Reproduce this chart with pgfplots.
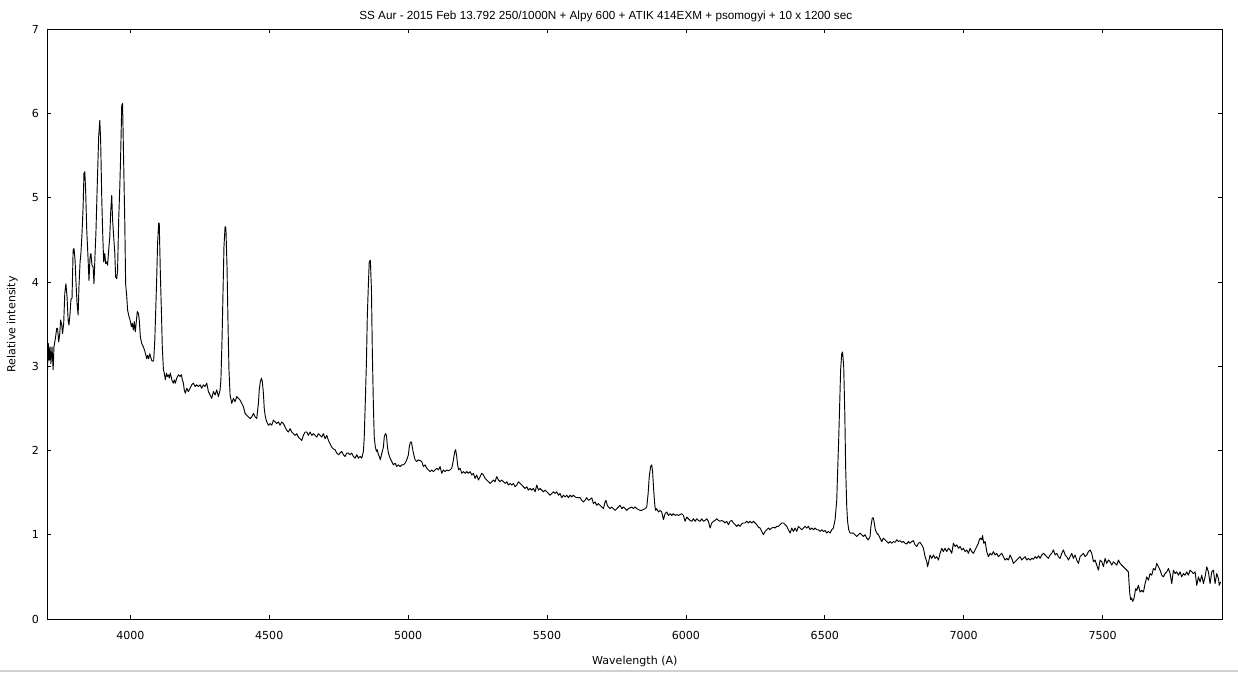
\documentclass[border=0pt]{standalone}
\usepackage{fontspec}
\usepackage{pgfplots}
\usepackage{pgfplotstable}
\pgfplotsset{compat=1.18}
\newfontfamily\dejavu{DejaVu Sans}
\newfontfamily\libsans{Liberation Sans}
\newcommand\lbl{\dejavu\fontsize{8.3}{10}\selectfont}
\newcommand\ttl{\libsans\fontsize{8.8}{10}\selectfont}
\definecolor{winborder}{RGB}{212,208,200}

\pgfplotstableread{
x y
3701 2.88
3705 3.27
3708 3.07
3711 3.23
3714 3.03
3718 3.23
3722 2.96
3725 3.23
3730 3.33
3735 3.45
3738 3.45
3742 3.29
3746 3.39
3749 3.55
3753 3.49
3756 3.39
3760 3.51
3764 3.87
3768 3.98
3772 3.83
3776 3.55
3779 3.49
3783 3.63
3786 3.79
3790 3.81
3794 4.38
3797 4.40
3801 4.26
3804 4.02
3808 3.75
3812 3.61
3815 3.95
3819 4.24
3822 4.34
3826 4.58
3830 4.90
3833 5.29
3836 5.31
3839 5.09
3843 4.62
3848 4.26
3851 4.02
3855 4.30
3858 4.34
3862 4.20
3866 4.18
3869 3.98
3873 4.34
3876 4.58
3881 5.17
3886 5.73
3890 5.92
3893 5.69
3897 5.01
3900 4.62
3904 4.24
3908 4.34
3911 4.22
3915 4.24
3918 4.20
3922 4.38
3926 4.54
3929 4.82
3933 5.03
3936 4.74
3940 4.54
3944 4.34
3947 4.06
3951 4.04
3954 4.14
3958 4.74
3962 5.13
3965 5.49
3969 6.10
3972 6.12
3976 5.41
3980 4.70
3983 3.98
3987 3.83
3990 3.67
3995 3.59
3999 3.55
4004 3.47
4007 3.51
4011 3.43
4014 3.53
4018 3.41
4022 3.55
4025 3.65
4029 3.63
4032 3.55
4036 3.35
4041 3.27
4047 3.23
4053 3.17
4059 3.09
4062 3.13
4066 3.09
4070 3.15
4073 3.11
4077 3.07
4080 3.06
4084 3.07
4088 3.31
4091 3.63
4095 4.06
4098 4.46
4102 4.70
4104 4.70
4108 4.10
4112 3.63
4115 3.23
4119 2.96
4122 2.92
4126 2.84
4130 2.92
4133 2.88
4137 2.90
4140 2.86
4144 2.92
4148 2.86
4151 2.82
4155 2.80
4158 2.84
4162 2.80
4167 2.86
4173 2.90
4179 2.88
4184 2.90
4187 2.84
4191 2.80
4194 2.72
4198 2.68
4203 2.74
4209 2.70
4215 2.74
4221 2.78
4227 2.80
4233 2.76
4239 2.78
4245 2.76
4251 2.78
4257 2.74
4263 2.78
4269 2.76
4275 2.80
4281 2.70
4287 2.66
4293 2.62
4299 2.70
4305 2.66
4311 2.72
4317 2.64
4323 2.72
4326 2.84
4330 3.31
4334 3.95
4337 4.42
4341 4.66
4344 4.64
4348 4.18
4352 3.43
4355 2.96
4359 2.66
4365 2.56
4371 2.62
4377 2.58
4383 2.64
4389 2.62
4395 2.60
4401 2.56
4407 2.52
4413 2.44
4419 2.42
4425 2.40
4431 2.38
4437 2.40
4443 2.44
4449 2.40
4455 2.38
4461 2.56
4464 2.72
4468 2.82
4472 2.86
4475 2.82
4479 2.68
4482 2.50
4486 2.40
4491 2.34
4497 2.30
4503 2.32
4509 2.30
4515 2.36
4521 2.34
4527 2.32
4533 2.34
4539 2.30
4545 2.34
4551 2.32
4557 2.28
4563 2.24
4569 2.22
4575 2.26
4581 2.22
4587 2.20
4593 2.18
4599 2.20
4605 2.16
4611 2.14
4617 2.12
4623 2.18
4629 2.22
4635 2.22
4641 2.18
4647 2.22
4653 2.18
4659 2.20
4665 2.18
4671 2.16
4677 2.20
4683 2.18
4689 2.16
4695 2.20
4701 2.14
4707 2.18
4713 2.12
4719 2.08
4725 2.04
4731 2.02
4737 2.01
4743 1.97
4749 1.95
4755 1.97
4761 1.99
4767 1.95
4773 1.93
4779 1.97
4785 1.97
4791 1.95
4797 1.97
4803 1.93
4809 1.91
4815 1.95
4821 1.91
4827 1.93
4833 1.91
4839 1.99
4842 2.16
4846 2.60
4850 3.07
4853 3.59
4857 3.98
4860 4.24
4864 4.26
4868 3.90
4871 3.19
4875 2.52
4878 2.16
4882 2.04
4886 1.99
4889 2.01
4893 1.95
4896 1.93
4900 1.89
4904 1.95
4907 1.99
4911 2.04
4914 2.16
4918 2.20
4922 2.18
4925 2.06
4929 1.97
4935 1.91
4941 1.87
4947 1.83
4953 1.85
4959 1.81
4965 1.83
4971 1.81
4977 1.83
4983 1.83
4989 1.85
4995 1.89
5001 1.95
5004 2.04
5008 2.10
5012 2.10
5015 2.04
5019 1.97
5025 1.89
5031 1.87
5037 1.89
5049 1.87
5055 1.81
5061 1.83
5067 1.79
5073 1.77
5079 1.75
5085 1.77
5091 1.75
5097 1.77
5103 1.79
5109 1.77
5115 1.81
5121 1.73
5127 1.77
5133 1.75
5139 1.77
5145 1.76
5151 1.77
5157 1.79
5163 1.89
5168 1.99
5171 2.01
5175 1.93
5178 1.83
5182 1.77
5187 1.79
5193 1.73
5199 1.75
5205 1.73
5211 1.75
5217 1.73
5223 1.75
5229 1.71
5235 1.73
5241 1.67
5247 1.71
5253 1.65
5259 1.69
5265 1.73
5271 1.71
5277 1.67
5283 1.65
5289 1.63
5295 1.61
5301 1.63
5307 1.65
5313 1.63
5319 1.69
5325 1.65
5331 1.63
5337 1.65
5343 1.63
5349 1.61
5355 1.63
5361 1.59
5367 1.61
5373 1.59
5379 1.61
5385 1.57
5391 1.59
5397 1.63
5403 1.61
5409 1.59
5415 1.57
5421 1.55
5427 1.57
5433 1.53
5439 1.55
5445 1.53
5451 1.55
5457 1.51
5463 1.59
5469 1.53
5475 1.55
5481 1.53
5487 1.51
5493 1.53
5499 1.51
5505 1.49
5511 1.47
5517 1.49
5523 1.51
5529 1.49
5535 1.51
5541 1.47
5547 1.49
5553 1.44
5559 1.47
5565 1.45
5571 1.47
5577 1.44
5583 1.47
5589 1.45
5595 1.47
5601 1.45
5607 1.44
5613 1.44
5619 1.44
5625 1.41
5631 1.39
5637 1.41
5643 1.44
5649 1.41
5655 1.42
5661 1.44
5667 1.37
5673 1.39
5679 1.35
5685 1.37
5691 1.35
5697 1.33
5703 1.31
5709 1.39
5712 1.41
5717 1.35
5721 1.33
5727 1.31
5733 1.33
5739 1.31
5745 1.29
5751 1.31
5757 1.33
5763 1.35
5769 1.31
5775 1.33
5781 1.31
5787 1.29
5793 1.31
5805 1.33
5811 1.31
5817 1.33
5823 1.31
5829 1.30
5835 1.29
5841 1.29
5847 1.30
5853 1.31
5859 1.33
5864 1.49
5868 1.69
5873 1.81
5877 1.83
5880 1.75
5884 1.53
5888 1.35
5891 1.29
5895 1.31
5901 1.27
5907 1.29
5913 1.27
5919 1.18
5925 1.25
5931 1.27
5937 1.23
5943 1.25
5949 1.23
5955 1.25
5961 1.23
5967 1.24
5973 1.23
5979 1.24
5985 1.25
5991 1.23
5997 1.16
6003 1.21
6009 1.19
6015 1.17
6021 1.16
6027 1.19
6033 1.16
6039 1.19
6045 1.17
6051 1.16
6057 1.19
6063 1.16
6069 1.17
6075 1.19
6081 1.16
6087 1.08
6093 1.14
6099 1.16
6105 1.17
6111 1.19
6117 1.17
6123 1.16
6129 1.17
6135 1.16
6141 1.14
6147 1.16
6153 1.12
6159 1.16
6165 1.17
6171 1.14
6177 1.12
6183 1.10
6189 1.12
6195 1.10
6201 1.13
6207 1.14
6213 1.14
6219 1.16
6225 1.14
6231 1.16
6237 1.14
6243 1.16
6249 1.14
6255 1.12
6261 1.09
6267 1.08
6273 1.04
6279 1.00
6285 1.04
6291 1.06
6297 1.08
6303 1.06
6309 1.08
6315 1.09
6321 1.08
6327 1.10
6333 1.10
6339 1.12
6345 1.14
6351 1.14
6357 1.12
6363 1.10
6369 1.06
6375 1.02
6381 1.08
6387 1.04
6393 1.08
6399 1.04
6405 1.10
6411 1.08
6417 1.06
6423 1.08
6429 1.10
6435 1.08
6441 1.10
6447 1.06
6453 1.08
6459 1.06
6465 1.08
6471 1.06
6477 1.06
6483 1.04
6489 1.06
6495 1.04
6501 1.05
6507 1.02
6513 1.04
6519 1.02
6525 1.06
6531 1.08
6537 1.18
6543 1.41
6546 1.73
6550 2.13
6554 2.60
6557 2.96
6561 3.15
6564 3.17
6568 3.00
6572 2.44
6575 1.81
6579 1.33
6582 1.16
6586 1.06
6591 1.02
6597 1.02
6603 1.02
6609 1.00
6615 0.98
6621 1.00
6627 1.02
6633 1.00
6639 0.98
6645 1.00
6651 0.96
6657 0.94
6663 0.98
6666 1.10
6671 1.20
6675 1.20
6678 1.14
6682 1.06
6687 1.02
6693 1.00
6699 0.96
6705 0.92
6711 0.96
6717 0.94
6723 0.92
6729 0.90
6735 0.92
6741 0.90
6747 0.92
6753 0.91
6759 0.94
6765 0.92
6771 0.93
6777 0.91
6783 0.92
6789 0.90
6795 0.89
6801 0.92
6807 0.90
6813 0.92
6819 0.93
6825 0.88
6831 0.86
6837 0.90
6843 0.91
6849 0.88
6855 0.84
6861 0.74
6867 0.68
6870 0.62
6874 0.68
6879 0.76
6885 0.72
6891 0.76
6897 0.72
6903 0.74
6909 0.70
6915 0.78
6921 0.84
6927 0.80
6933 0.84
6939 0.80
6945 0.84
6951 0.82
6957 0.78
6963 0.90
6969 0.86
6975 0.88
6981 0.84
6987 0.86
6993 0.82
6999 0.84
7005 0.80
7011 0.82
7017 0.78
7023 0.84
7029 0.80
7035 0.78
7041 0.82
7047 0.86
7053 0.90
7056 0.94
7060 0.96
7065 0.94
7068 0.99
7072 0.90
7077 0.92
7083 0.80
7089 0.74
7095 0.78
7101 0.76
7107 0.80
7113 0.76
7119 0.78
7125 0.74
7131 0.76
7137 0.78
7143 0.74
7149 0.70
7155 0.72
7161 0.70
7167 0.76
7173 0.72
7179 0.66
7185 0.68
7191 0.70
7197 0.72
7203 0.74
7209 0.70
7215 0.72
7221 0.74
7227 0.70
7233 0.72
7239 0.70
7245 0.72
7251 0.71
7257 0.74
7263 0.72
7269 0.75
7275 0.72
7281 0.76
7287 0.78
7293 0.76
7299 0.74
7305 0.72
7311 0.76
7317 0.78
7323 0.82
7329 0.76
7335 0.78
7341 0.74
7347 0.72
7353 0.78
7359 0.82
7365 0.76
7371 0.74
7377 0.70
7383 0.74
7389 0.78
7395 0.72
7401 0.76
7407 0.70
7413 0.66
7419 0.74
7425 0.76
7431 0.78
7437 0.74
7443 0.76
7449 0.80
7455 0.82
7461 0.78
7467 0.68
7473 0.70
7479 0.64
7485 0.58
7491 0.70
7497 0.68
7503 0.62
7509 0.72
7515 0.66
7521 0.70
7527 0.68
7533 0.64
7539 0.68
7545 0.66
7551 0.64
7557 0.70
7563 0.66
7569 0.64
7575 0.62
7581 0.60
7587 0.58
7593 0.56
7595 0.44
7598 0.30
7601 0.23
7605 0.25
7608 0.21
7612 0.23
7616 0.30
7619 0.36
7623 0.34
7629 0.40
7635 0.32
7641 0.34
7647 0.32
7653 0.42
7659 0.50
7665 0.46
7671 0.54
7677 0.52
7683 0.60
7689 0.58
7695 0.66
7701 0.62
7707 0.58
7713 0.52
7719 0.50
7725 0.54
7731 0.56
7737 0.60
7743 0.54
7749 0.42
7755 0.58
7761 0.54
7767 0.56
7773 0.52
7779 0.56
7785 0.50
7791 0.54
7797 0.52
7803 0.56
7809 0.52
7815 0.58
7821 0.56
7827 0.54
7833 0.56
7839 0.40
7845 0.50
7851 0.44
7857 0.52
7863 0.42
7869 0.50
7875 0.62
7881 0.56
7887 0.42
7893 0.56
7899 0.58
7905 0.42
7911 0.54
7917 0.48
7920 0.40
7925 0.44
}\spec

\begin{document}
\begin{tikzpicture}
\path (-35.475pt,-39.75pt) rectangle (893.025pt,464.25pt);
\fill[winborder] (-35.475pt,-39.75pt) rectangle (893.025pt,-38.25pt);
\begin{axis}[
  at={(0,0)}, anchor=south west,
  scale only axis, width=881.25pt, height=442.2pt,
  xmin=3701, xmax=7931, ymin=0, ymax=7,
  xtick={4000,4500,...,7500}, ytick={0,1,...,7},
  minor tick num=0,
  tick align=inside, major tick length=3pt,
  xtick pos=both, ytick pos=both,
  axis line style={black, line width=0.75pt},
  tick style={black, line width=0.6pt},
  scaled ticks=false,
  /pgf/number format/assume math mode=true,
  /pgf/number format/1000 sep={},
  ticklabel style={font=\lbl},
  xticklabel style={anchor=base, inner sep=0pt, yshift=-15pt},
  yticklabel style={anchor=east, inner sep=0pt, xshift=-6pt},
  every axis title shift=0pt,
  title={SS Aur - 2015 Feb 13.792 250/1000N + Alpy 600 + ATIK 414EXM + psomogyi + 10 x 1200 sec},
  title style={at={(axis description cs:0.4753,1.0172)}, anchor=base, font=\ttl, inner sep=0pt},
  xlabel={Wavelength (A)},
  xlabel style={at={(axis description cs:0.5,-0.0769)}, anchor=base, font=\lbl, inner sep=0pt},
  ylabel={Relative intensity},
  ylabel style={at={(axis description cs:-0.02723,0.5)}, anchor=base, font=\lbl, inner sep=0pt},
]
\addplot[black, line width=0.7pt, line join=round] table[x=x, y=y] {\spec};
\end{axis}
\end{tikzpicture}
\end{document}
